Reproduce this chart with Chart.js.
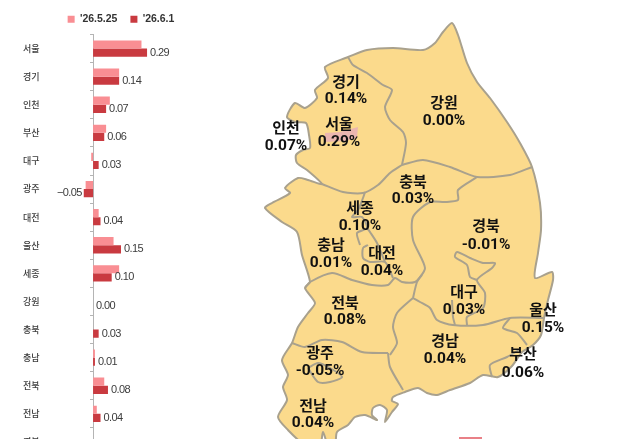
<!doctype html>
<html lang="ko">
<head>
<meta charset="utf-8">
<title>주간 아파트 매매가격 변동률</title>
<script src="https://cdn.jsdelivr.net/npm/chart.js@4/dist/chart.umd.min.js"></script>
<style>
  html, body { margin: 0; padding: 0; background: #fff; overflow: hidden; width: 628px; height: 439px; }
  canvas { position: absolute; left: 0; top: 0; filter: blur(0.35px); }
</style>
</head>
<body>
<canvas id="mapChart" width="628" height="439"></canvas>
<canvas id="barChart" width="242" height="456"></canvas>
<script>
// bar chart values
const categories = ['서울','경기','인천','부산','대구','광주','대전','울산','세종','강원','충북','충남','전북','전남','경북'];
const may25 = [0.26,0.14,0.09,0.07,-0.01,-0.04,0.03,0.11,0.14,0.00,0.00,0.01,0.06,0.02,0.00];
const jun1  = [0.29,0.14,0.07,0.06,0.03,-0.05,0.04,0.15,0.10,0.00,0.03,0.01,0.08,0.04,-0.01];
const seriesNames = ["'26.5.25","'26.6.1"];

// map labels
const regionNames = ['경기','강원','인천','서울','충북','세종','충남','대전','경북','대구','울산','전북','경남','부산','광주','전남'];
const regionRates = ['0.14%','0.00%','0.07%','0.29%','0.03%','0.10%','0.01%','0.04%','-0.01%','0.03%','0.15%','0.08%','0.04%','0.06%','-0.05%','0.04%'];
const labelX = [346,444,286,339,413,360,331,382,486,464,543,345,445,523,320,313];
const labelNameY = [81,102,127,123,181,207,244,252,225,291,309,302,340,353,352,405];
const labelRateY = [99,121,146,142,199,226,263,271,245,310,328,320,359,373,371,423];

// map outlines
const coast = [[348,57],[367,50],[393,48],[423,50],[435,43],[443,32],[452,23],[458,35],[467,63],[477,82],[490,98],[507,122],[520,143],[532,167],[540,203],[541,230],[538,253],[535,278],[552,272],[553,280],[548,300],[544,318],[541,335],[533,345],[522,352],[512,366],[498,377],[483,375],[470,383],[450,390],[437,395],[427,393],[418,388],[405,392],[393,397],[392,401],[398,404],[392,412],[385,422],[387,410],[380,405],[373,408],[372,415],[377,420],[365,415],[355,417],[348,425],[337,432],[335,445],[328,445],[323,432],[320,445],[305,445],[288,430],[278,417],[287,400],[283,387],[288,375],[282,360],[292,343],[298,327],[308,313],[315,303],[305,288],[310,282],[302,255],[297,232],[282,222],[265,208],[272,203],[290,193],[285,188],[298,178],[308,180],[322,184],[307,170],[297,163],[296,155],[303,150],[310,148],[309,135],[306,123],[295,122],[287,117],[295,103],[305,108],[317,98],[315,90],[328,78],[325,67],[348,57]];
const seoul = [[325,133],[340,132],[358,127],[357,138],[345,141],[325,142],[325,133]];
const borders = [
  [[348,57],[353,65],[367,73],[383,85],[392,90],[385,107],[390,120],[403,132],[406,143],[402,165]],
  [[402,165],[423,160],[450,167],[477,177],[510,175],[532,167]],
  [[402,165],[390,173],[378,185],[363,193],[343,192],[322,184]],
  [[477,177],[458,190],[458,200],[445,202],[430,202],[413,217],[413,240],[425,268],[417,282],[413,298]],
  [[365,192],[363,198],[358,210],[352,217],[362,217],[367,228],[357,233],[360,245]],
  [[367,228],[370,232],[377,243],[385,262]],
  [[368,245],[363,248],[363,258],[370,262],[385,262],[393,278]],
  [[305,288],[310,282],[332,273],[352,280],[372,285],[388,285],[395,278],[402,282],[415,282],[422,275]],
  [[413,298],[397,313],[393,327],[397,343],[390,355]],
  [[292,343],[305,347],[322,340],[342,342],[362,352],[388,353]],
  [[388,353],[390,367],[403,390]],
  [[413,298],[420,302],[430,308],[437,320],[453,325],[483,325],[510,318],[543,318]],
  [[455,325],[453,317],[452,300]],
  [[467,325],[467,317],[483,308],[485,293],[477,280],[492,268],[495,263],[483,263],[470,258],[457,252],[455,257],[467,265],[470,277],[477,280]],
  [[510,318],[503,328],[517,333],[527,345]],
  [[492,377],[490,365],[507,357],[519,350]],
  [[308,368],[318,363],[330,368],[342,377],[330,382],[318,382],[308,368]]
];
const swatch = [[459,437],[482,437],[482,445],[459,445],[459,437]];

function toPoints(list) {
    return list.map(function (p) { return { x: p[0], y: p[1] }; });
}

// both y axes sit on the plot, so they must not take room from it
function zeroFit(scale) {
    scale.width = 0;
    scale.paddingTop = 0;
    scale.paddingBottom = 0;
}

// draws the small numbers next to the darker bars
const barValueLabels = {
    id: 'barValueLabels',
    afterDatasetsDraw(chart) {
        const ctx = chart.ctx;
        const meta = chart.getDatasetMeta(1);
        ctx.save();
        ctx.font = '500 11px "Liberation Sans"';
        ctx.letterSpacing = '-0.6px';
        ctx.fillStyle = '#3c3c3c';
        ctx.textBaseline = 'middle';
        meta.data.forEach(function (bar, i) {
            const v = jun1[i];
            if (v < 0) {
                ctx.textAlign = 'right';
                ctx.fillText('\u2212' + Math.abs(v).toFixed(2), bar.x - 2, bar.y);
            } else {
                ctx.textAlign = 'left';
                ctx.fillText(v.toFixed(2), bar.x + 3, bar.y);
            }
        });
        ctx.restore();
    }
};

// region names and rates on the map
const mapLabels = {
    id: 'mapLabels',
    afterDatasetsDraw(chart) {
        const ctx = chart.ctx;
        const sx = chart.scales.x;
        const sy = chart.scales.y;
        ctx.save();
        ctx.fillStyle = '#111';
        ctx.textAlign = 'center';
        ctx.textBaseline = 'middle';
        regionNames.forEach(function (name, i) {
            ctx.font = 'bold 15px "Noto Sans CJK KR"';
            ctx.fillText(name, sx.getPixelForValue(labelX[i]), sy.getPixelForValue(labelNameY[i]));
            ctx.font = 'bold 15.5px Roboto, "Liberation Sans"';
            ctx.fillText(regionRates[i], sx.getPixelForValue(labelX[i]), sy.getPixelForValue(labelRateY[i]));
        });
        ctx.restore();
    }
};

new Chart(document.getElementById('barChart'), {
    type: 'bar',
    data: {
        labels: categories,
        datasets: [
            { label: seriesNames[0], data: may25, backgroundColor: '#F98E93', categoryPercentage: 0.58, barPercentage: 1 },
            { label: seriesNames[1], data: jun1, backgroundColor: '#C93A40', categoryPercentage: 0.58, barPercentage: 1 }
        ]
    },
    options: {
        indexAxis: 'y',
        responsive: false,
        animation: false,
        layout: { padding: { top: 1 } },
        scales: {
            x: { display: false, min: -0.5, max: 0.8 },
            y: {
                position: { x: 0 },
                afterFit: zeroFit,
                border: { color: '#B4B4B4', width: 1 },
                grid: { drawOnChartArea: false, tickLength: 3, color: '#B4B4B4' },
                ticks: { display: false }
            },
            yLabels: {
                type: 'category',
                position: 'left',
                offset: true,
                afterFit: zeroFit,
                border: { display: false },
                grid: { display: false },
                ticks: {
                    mirror: true, padding: 23, autoSkip: false, color: '#3c3c3c',
                    font: { family: '"Noto Sans CJK KR"', size: 9, weight: '500' }
                }
            }
        },
        plugins: {
            tooltip: { enabled: false },
            legend: {
                position: 'top',
                labels: {
                    boxWidth: 7, boxHeight: 7, padding: 13, color: '#333',
                    font: { family: '"Liberation Sans"', size: 10.5, weight: 'bold' }
                }
            }
        }
    },
    plugins: [barValueLabels]
});

const lineDefaults = { showLine: true, pointRadius: 0, tension: 0.25, borderColor: '#A9A18D', borderWidth: 2 };
const borderSets = borders.map(function (b) {
    return Object.assign({}, lineDefaults, { data: toPoints(b), fill: false, order: 1 });
});

new Chart(document.getElementById('mapChart'), {
    type: 'scatter',
    data: {
        datasets: [
            Object.assign({}, lineDefaults, { data: toPoints(coast), fill: 'shape', backgroundColor: '#FBDA8C', order: 3 }),
            { showLine: true, pointRadius: 0, borderWidth: 0, data: toPoints(seoul), fill: 'shape', backgroundColor: '#EBB6B0', order: 2 },
            { showLine: true, pointRadius: 0, borderWidth: 0, data: toPoints(swatch), fill: 'shape', backgroundColor: '#E98087', order: 2 }
        ].concat(borderSets)
    },
    options: {
        responsive: false,
        animation: false,
        layout: { padding: 0 },
        scales: {
            x: { display: false, min: 0, max: 628 },
            y: { display: false, min: 0, max: 439, reverse: true }
        },
        plugins: { legend: { display: false }, tooltip: { enabled: false } }
    },
    plugins: [mapLabels]
});
</script>
</body>
</html>
